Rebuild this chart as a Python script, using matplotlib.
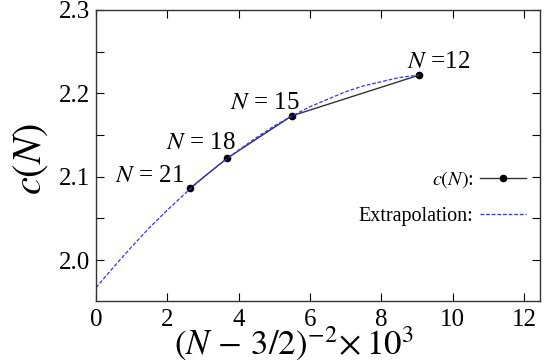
import matplotlib
matplotlib.use("Agg")
import matplotlib.pyplot as plt
from matplotlib.ticker import MultipleLocator

plt.rcParams['font.family'] = ['Liberation Serif', 'DejaVu Serif']
plt.rcParams['mathtext.fontset'] = 'stix'

# data: x = (N-3/2)^-2 * 1e3
N_labels = ['$N$ = 21', '$N$ = 18', '$N$ = 15', '$N$ =12']
x_data = [2.63, 3.67, 5.49, 9.07]
c_data = [2.086, 2.122, 2.173, 2.222]

# extrapolation curve
x_fit = [0.0, 0.5, 1.0, 1.5, 2.0, 2.5, 3.0, 3.5, 4.0, 4.5, 5.0, 5.5, 6.0, 6.5, 7.0, 7.5, 8.0, 8.5, 9.07]
c_fit = [1.967, 1.992, 2.016, 2.039, 2.060, 2.080, 2.099, 2.116, 2.132, 2.147, 2.161, 2.173, 2.184, 2.193, 2.202, 2.209, 2.214, 2.219, 2.222]

label_pos_x = [0.53, 1.96, 3.75, 8.73]
label_pos_y = [2.101, 2.140, 2.189, 2.238]

fig = plt.figure(figsize=(5.5, 3.63), dpi=100)
ax = fig.add_axes([0.1745, 0.1708, 0.8073, 0.8017])

ax.plot(x_data, c_data, '-', color='#333333', lw=1.0, marker='o', ms=4.5,
        mfc='black', mec='black', label='$c(N)$:')
ax.plot(x_fit, c_fit, '--', color='#3333ff', lw=0.9, dashes=(3, 1.5), label='Extrapolation:')

for t, xx, yy in zip(N_labels, label_pos_x, label_pos_y):
    ax.text(xx, yy, t, fontsize=18, ha='left', va='center')

ax.set_xlim(0, 12.45)
ax.set_ylim(1.951, 2.3)
ax.xaxis.set_major_locator(MultipleLocator(2))
ax.yaxis.set_major_locator(MultipleLocator(0.1))
ax.yaxis.set_minor_locator(MultipleLocator(0.05))
ax.tick_params(which='both', direction='in', top=True, right=True, length=6, width=0.8,
               labelsize=18, pad=4)
ax.tick_params(axis='x', pad=6)
for s in ax.spines.values():
    s.set_linewidth(1.0)
    s.set_color('#333333')

leg = ax.legend(loc='center right', bbox_to_anchor=(1.0, 0.355), frameon=False, markerfirst=False,
                fontsize=14.5, handlelength=2.3, handletextpad=0.3, labelspacing=0.85, numpoints=1,
                borderaxespad=0.3)

fig.text(31 / 550, 0.562, '$c(N)$', rotation=90, fontsize=29, ha='center', va='center')
fig.text(294 / 550, 0.022, r'$(N\,-\,3/2)^{-2}\!\times10^3$', fontsize=25, ha='center', va='baseline')

fig.savefig('out.png', dpi=100)
